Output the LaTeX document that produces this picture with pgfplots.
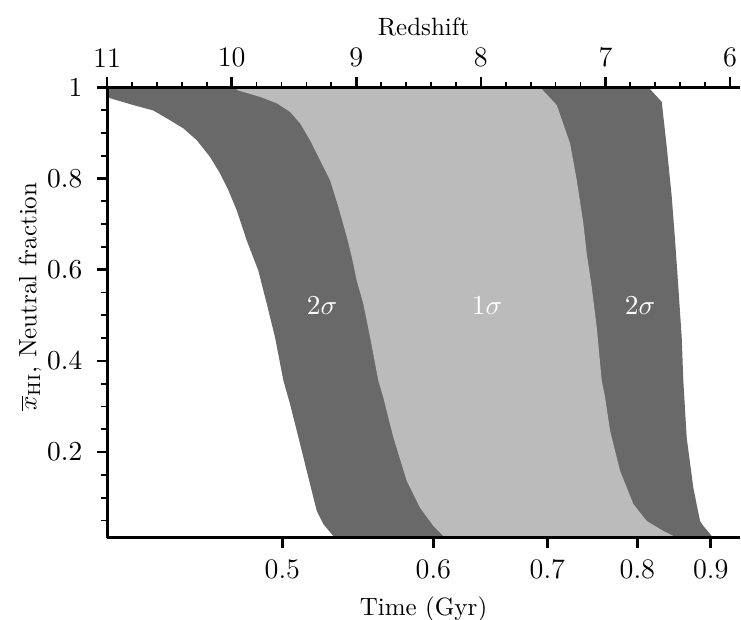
\documentclass[border=0pt]{standalone}
\usepackage{pgfplots}
\pgfplotsset{compat=1.18}
\definecolor{darkband}{RGB}{105,105,105}
\definecolor{lightband}{RGB}{187,187,187}
\begin{document}
\begin{tikzpicture}
\begin{axis}[
  name=main, at={(0,0)}, anchor=south west, scale only axis,
  width=253pt, height=180pt,
  xmin=-11, xmax=-5.92, ymin=0.0125, ymax=1,
  axis x line=bottom, axis y line=left,
  axis line style={-, line width=1.2pt},
  x axis line style={-}, y axis line style={-},
  axis on top,
  tick align=outside,
  major tick length=4pt, minor tick length=2.5pt,
  every major tick/.append style={line width=1pt, black},
  every minor tick/.append style={line width=0.7pt, black},
  tick label style={font=\fontsize{11.3}{13}\selectfont},
  xticklabel style={yshift=-1.2pt},
  yticklabel style={xshift=-2.4pt},
  xtick={-9.593,-8.381,-7.466,-6.744,-6.155},
  xticklabels={0.5,0.6,0.7,0.8,0.9},
  ytick={0.2,0.4,0.6,0.8,1},
  minor ytick={0.05,0.1,0.15,0.25,0.3,0.35,0.45,0.5,0.55,0.65,0.7,0.75,0.85,0.9,0.95},
  xlabel={Time (Gyr)},
  ylabel={$\overline{x}_{\mathrm{HI}}$, Neutral fraction},
  ylabel style={at={(ticklabel cs:0.535)}},
  ylabel shift=-4.5pt,
]
\addplot[draw=none, fill=darkband] coordinates {
(-9.17,0.0125)(-9.184,0.016)(-9.264,0.042)(-9.317,0.071)(-9.371,0.130)(-9.451,0.218)
(-9.531,0.305)(-9.585,0.357)(-9.652,0.452)(-9.718,0.525)(-9.786,0.598)(-9.879,0.664)
(-9.959,0.730)(-10.026,0.774)(-10.093,0.811)(-10.173,0.847)(-10.280,0.884)(-10.388,0.910)
(-10.521,0.932)(-10.628,0.949)(-10.789,0.961)(-10.976,0.976)(-11,0.981)(-11,1)
(-6.656,1)(-6.548,0.968)(-6.508,0.869)(-6.468,0.760)(-6.441,0.664)(-6.415,0.562)
(-6.388,0.452)(-6.375,0.357)(-6.348,0.232)(-6.295,0.122)(-6.241,0.049)(-6.214,0.038)
(-6.147,0.016)(-6.14,0.0125)
} -- cycle;
\addplot[draw=none, fill=lightband] coordinates {
(-9.959,1)(-9.959,0.994)(-9.772,0.979)(-9.638,0.965)(-9.531,0.946)(-9.451,0.921)
(-9.371,0.884)(-9.291,0.840)(-9.210,0.796)(-9.144,0.738)(-9.076,0.672)(-9.036,0.628)
(-8.996,0.576)(-8.943,0.525)(-8.889,0.452)(-8.823,0.357)(-8.783,0.320)(-8.702,0.232)
(-8.595,0.137)(-8.488,0.078)(-8.381,0.038)(-8.301,0.016)(-8.28,0.0125)
(-6.44,0.0125)(-6.455,0.016)(-6.535,0.027)(-6.669,0.049)(-6.776,0.086)(-6.883,0.159)
(-6.963,0.247)(-7.003,0.320)(-7.030,0.357)(-7.070,0.474)(-7.110,0.562)(-7.150,0.635)
(-7.177,0.701)(-7.230,0.796)(-7.284,0.877)(-7.391,0.961)(-7.525,1)
} -- cycle;
\node[white, font=\fontsize{11}{13}\selectfont] at (axis cs:-9.275,0.522) {$2\sigma$};
\node[white, font=\fontsize{11}{13}\selectfont] at (axis cs:-7.950,0.522) {$1\sigma$};
\node[white, font=\fontsize{11}{13}\selectfont] at (axis cs:-6.722,0.522) {$2\sigma$};
\end{axis}
\begin{axis}[
  at={(0,0)}, anchor=south west, scale only axis,
  width=253pt, height=180pt,
  xmin=-11, xmax=-5.92, ymin=0.0125, ymax=1,
  axis x line=top, axis y line=none,
  axis line style={-, line width=1.2pt},
  x axis line style={-},
  tick align=outside,
  major tick length=4pt, minor tick length=2pt,
  every major tick/.append style={line width=1pt, black},
  every minor tick/.append style={line width=0.7pt, black},
  tick label style={font=\fontsize{11.3}{13}\selectfont},
  xticklabel style={yshift=0.4pt},
  xtick={-11,-10,-9,-8,-7,-6},
  xticklabels={11,10,9,8,7,6},
  minor x tick num=4,
  xlabel={Redshift},
  xlabel shift=-2pt,
]
\end{axis}
\pgfresetboundingbox
\useasboundingbox (-42.8pt,-32.8pt) rectangle (253.4pt,214.9pt);
\end{tikzpicture}
\end{document}
